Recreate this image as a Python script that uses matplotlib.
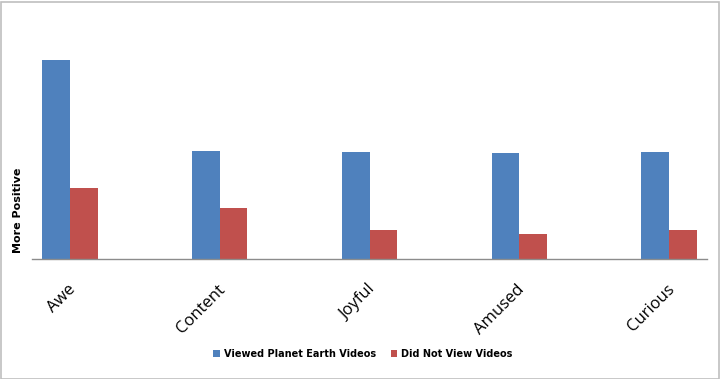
import matplotlib
matplotlib.use("Agg")
import matplotlib.pyplot as plt
import numpy as np
from matplotlib.patches import Rectangle

categories = ["Awe", "Content", "Joyful", "Amused", "Curious"]
viewed = [19.9, 10.8, 10.7, 10.6, 10.7]
not_viewed = [7.1, 5.1, 2.9, 2.5, 2.9]
series_names = ["Viewed Planet Earth Videos", "Did Not View Videos"]
y_label = "More Positive"

W, H = 720, 379
fig = plt.figure(figsize=(W / 100, H / 100), dpi=100)
fig.patch.set_facecolor("white")

# axes in pixel coordinates
left_px, right_px = 32, 707
top_px, base_px = 20, 259
ax = fig.add_axes([left_px / W, 1 - base_px / H, (right_px - left_px) / W, (base_px - top_px) / H])

x = np.arange(len(categories))
bw = 0.184
ax.bar(x - bw / 2, viewed, bw, color="#4F81BD", label=series_names[0])
ax.bar(x + bw / 2, not_viewed, bw, color="#C0504D", label=series_names[1])

ax.set_xlim(-0.254, len(categories) - 1 + 0.254)
ax.set_ylim(0, (base_px - top_px) / 10)

for s in ["top", "right", "left"]:
    ax.spines[s].set_visible(False)
ax.spines["bottom"].set_color("#8c8c8c")
ax.spines["bottom"].set_linewidth(1)
ax.set_yticks([])
ax.set_xticks(x)
ax.set_xticklabels([])
ax.tick_params(axis="x", length=0)

for xi, lab in zip(x, categories):
    ax.annotate(lab, xy=(xi, 0), xycoords="data", xytext=(3, -28), textcoords="offset pixels",
                rotation=45, ha="right", va="center", rotation_mode="anchor",
                fontsize=12, family="Open Sans", color="black")

fig.text(18 / W, 1 - 210 / H, y_label, rotation=90, ha="center", va="center",
         fontsize=8, fontweight="bold", family="DejaVu Sans")

leg = fig.legend(loc="center", bbox_to_anchor=(363 / W, 1 - 354 / H), ncol=2, frameon=False,
                 prop={"family": "DejaVu Sans", "weight": "bold", "size": 7},
                 handlelength=0.7, handleheight=0.7, handletextpad=0.4, columnspacing=1.5)

fig.patches.append(Rectangle((0.5 / W, 0.5 / H), 1 - 2 / W, 1 - 2 / H, transform=fig.transFigure,
                             fill=False, edgecolor="#bfbfbf", linewidth=1.2))

fig.savefig("out.png", dpi=100)
